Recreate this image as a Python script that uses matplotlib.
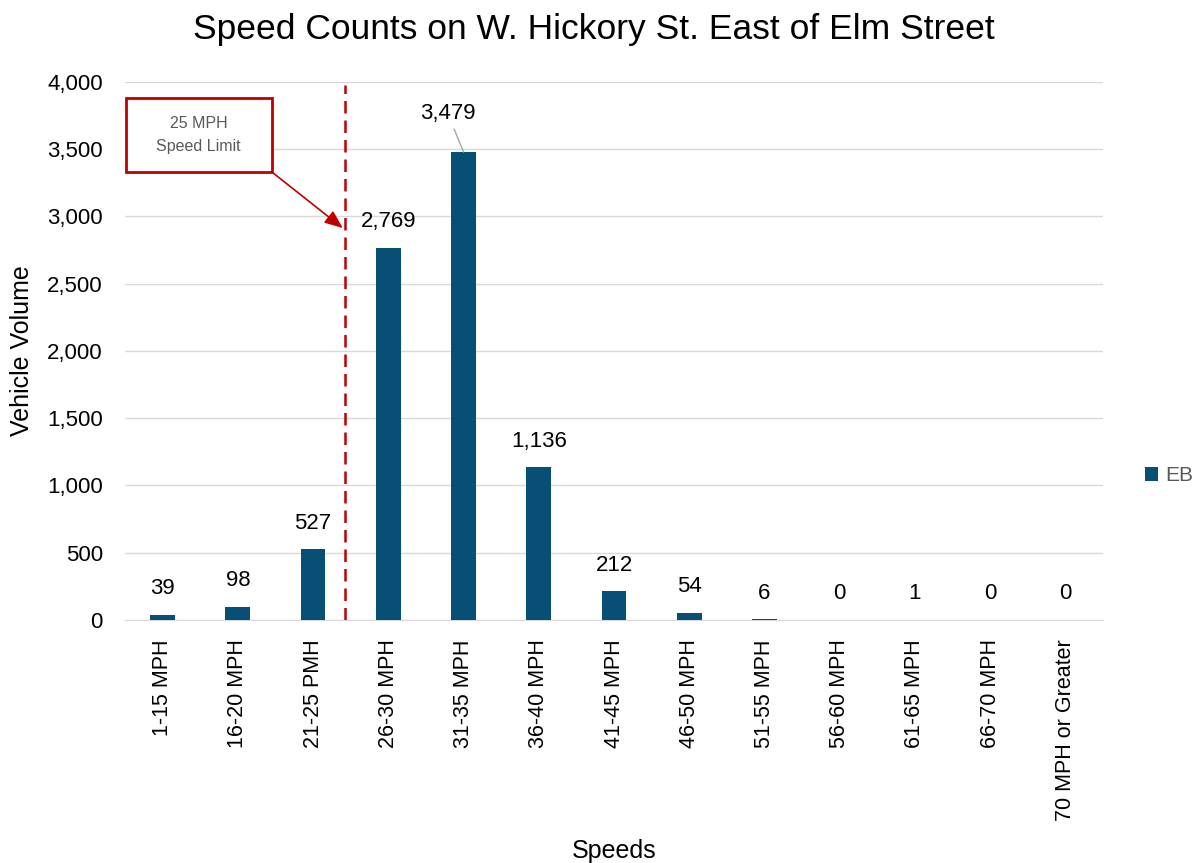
import numpy as np
import matplotlib.pyplot as plt
from matplotlib.patches import Rectangle

categories = ['1-15 MPH', '16-20 MPH', '21-25 PMH', '26-30 MPH', '31-35 MPH',
              '36-40 MPH', '41-45 MPH', '46-50 MPH', '51-55 MPH', '56-60 MPH',
              '61-65 MPH', '66-70 MPH', '70 MPH or Greater']
eb = [39, 98, 527, 2769, 3479, 1136, 212, 54, 6, 0, 1, 0, 0]

plt.rcParams['font.family'] = ['Liberation Sans', 'DejaVu Sans']

fig = plt.figure(figsize=(11.97, 8.63), dpi=100)
ax = fig.add_axes([0.1044, 0.2816, 0.8171, 0.6234])

x = np.arange(len(categories))
ax.bar(x, eb, width=0.33, color='#084f75', label='EB', zorder=3)

ax.set_xlim(-0.5, len(categories) - 0.5)
ax.set_ylim(0, 4000)
ax.set_yticks(np.arange(0, 4001, 500))
ax.set_yticklabels([f'{v:,}' for v in range(0, 4001, 500)], fontsize=16)
ax.set_xticks(x)
ax.set_xticklabels(categories, rotation=90, fontsize=15.5)
ax.tick_params(axis='y', length=0, pad=16)
ax.tick_params(axis='x', length=0, pad=14)
ax.grid(axis='y', color='#d9d9d9', linewidth=1, zorder=0)
for s in ['top', 'right', 'left']:
    ax.spines[s].set_visible(False)
ax.spines['bottom'].set_color('#d9d9d9')

# data labels
for xi, v in zip(x, eb):
    if v == 3479:
        ax.annotate(f'{v:,}', xy=(xi, v), xytext=(-16, 39), textcoords='offset pixels',
                    ha='center', va='center', fontsize=16,
                    arrowprops=dict(arrowstyle='-', color='#a6a6a6', lw=1,
                                    shrinkA=2, shrinkB=0))
    else:
        ax.annotate(f'{v:,}', xy=(xi, v), xytext=(0, 26), textcoords='offset pixels',
                    ha='center', va='center', fontsize=16)

# speed limit line and callout
ax.axvline(2.42, ymax=0.995, color='#c00000', linestyle=(0, (5, 2.8)), linewidth=1.8, zorder=4)
ax.add_patch(Rectangle((0.001, 0.833), 0.149, 0.137, transform=ax.transAxes,
                       fc='white', ec='#c00000', lw=2, zorder=5, clip_on=False))
ax.text(0.0755, 0.9015, '25 MPH\nSpeed Limit', transform=ax.transAxes,
        ha='center', va='center', fontsize=11.5, color='#595959',
        linespacing=1.6, zorder=6)
ax.annotate('', xy=(2.395, 2914), xytext=(0.150, 0.833), textcoords='axes fraction',
            arrowprops=dict(arrowstyle='-|>,head_length=1.1,head_width=0.45',
                            color='#c00000', lw=1.2, shrinkA=0, shrinkB=0), zorder=6)

ax.set_ylabel('Vehicle Volume', fontsize=18, labelpad=9)
ax.set_xlabel('Speeds', fontsize=18, labelpad=13)
fig.text(0.496, 0.966, 'Speed Counts on W. Hickory St. East of Elm Street',
         fontsize=25.5, ha='center', va='center')

leg = ax.legend(loc='center left', bbox_to_anchor=(1.043, 0.268), frameon=False,
                fontsize=15, handlelength=0.6, handleheight=0.6, handletextpad=0.35,
                borderaxespad=0, borderpad=0)
for t in leg.get_texts():
    t.set_color('#595959')

fig.savefig('out.png', dpi=100)
